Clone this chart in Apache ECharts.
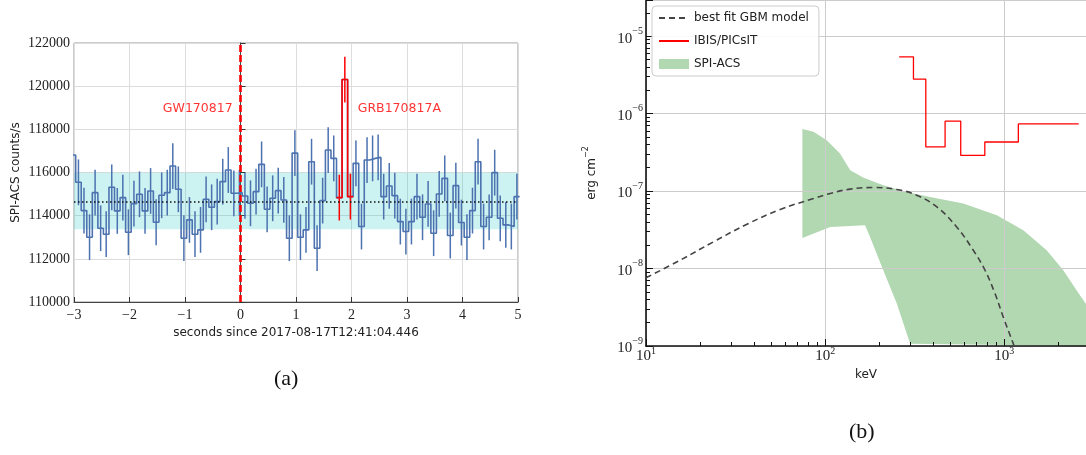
<!DOCTYPE html>
<html>
<head>
<meta charset="utf-8">
<script src="https://cdn.jsdelivr.net/npm/echarts@6/dist/echarts.min.js"></script>
<style>
  html, body { margin: 0; padding: 0; background: #fff; }
  #chart { width: 1086px; height: 455px; }
</style>
</head>
<body>
<div id="chart"></div>
<script>
// (a) SPI-ACS light curve, 0.1 s bins, first (clipped) bin starts at -3.07 s
const binStart = -3.07;
const binWidth = 0.1;
const acsRate = [
  116808, 115545, 114235, 113002, 115067, 113418, 113141, 115314, 114220, 114836,
  113233, 114560, 114990, 114220, 115144, 113695, 114944, 115067, 116300, 115221,
  112956, 113803, 113141, 113341, 114759, 114389, 114651, 115575, 116115, 115036,
  115067, 114913, 114574, 115113, 116377, 114297, 114805, 115159, 114728, 112956,
  116900, 113002, 113341, 116500, 112493, 114697, 117039, 116654, 114835, 120306,
  114882, 116423, 113495, 116577, 116654, 116700, 114882, 115375, 114928, 113726,
  113264, 113726, 114882, 113926, 114543, 113187, 115005, 115730, 113079, 115390,
  113680, 113002, 114235, 116500, 113495, 113926, 115992, 113880, 113572, 113495,
  114882
];
const rateErr = 1060;
const burstFirst = 48;   // GRB170817A bins (index in acsRate)
const burstLast = 50;
const bgMean = 114650;
const bgBand = [113370, 115990];
const gwTime = 0;
const gwLabel = [-0.133, 118935];
const grbLabel = [2.103, 118935];
const timeTicks = { min: -3, max: 5, step: 1 };
const rateTicks = { min: 110000, max: 122000, step: 2000 };

// (b) spectra
const gbmE = [10, 15.5, 23.8, 36.6, 56.1, 86.1, 106.7, 138, 186, 251, 324, 420, 542, 671, 780, 887, 986, 1122, 1155];
const gbmF = [7.6e-9, 1.28e-8, 2.21e-8, 3.73e-8, 5.78e-8, 8.02e-8, 9.31e-8, 1.06e-7, 1.11e-7, 1.05e-7,
  8.85e-8, 6.25e-8, 3.44e-8, 1.72e-8, 9.5e-9, 4.75e-9, 2.37e-9, 1.07e-9, 8.9e-10];
const ibisE = [259, 311, 364.5, 467, 571, 778, 1197, 2600];   // bin edges
const ibisF = [5.41e-6, 2.78e-6, 3.71e-7, 7.98e-7, 2.88e-7, 4.30e-7, 7.36e-7];
const acsHiE = [74.6, 86.1, 102, 121, 138, 164, 211, 286, 385, 590, 908, 1276, 1722, 2133, 2535, 2900];
const acsHiF = [6.31e-7, 5.81e-7, 4.53e-7, 3.05e-7, 1.86e-7, 1.48e-7, 1.19e-7, 9.75e-8, 8.39e-8, 6.89e-8,
  4.86e-8, 3.11e-8, 1.72e-8, 9.5e-9, 5.22e-9, 3.3e-9];
const acsLoE = [74.6, 106.7, 167, 178, 211, 251, 298, 2900];
const acsLoF = [2.48e-8, 3.44e-8, 3.62e-8, 2.56e-8, 9.5e-9, 3.53e-9, 1.07e-9, 1.0e-9];
const keVRange = [10, 2856];
const fluxRange = [1e-9, 2.926e-5];

const blue = '#4c72b0';
const red = '#ff0000';
const gbmColor = '#444';
const acsGreen = 'rgb(178,216,178)';
const serif = 'Liberation Serif';
const sans = 'DejaVu Sans';

const minus = v => (v < 0 ? '\u2212' + (-v) : String(v));
const pow10 = v => '{b|10}{s|' + minus(Math.round(Math.log10(v))) + '}';

const stepData = acsRate.map((v, i) => [binStart + i * binWidth, v]);
stepData.push([binStart + acsRate.length * binWidth, acsRate[acsRate.length - 1]]);
const burstData = [];
for (let i = burstFirst; i <= burstLast; i++) burstData.push([binStart + i * binWidth, acsRate[i]]);
burstData.push([binStart + (burstLast + 1) * binWidth, acsRate[burstLast]]);

const ibisData = ibisE.map((e, i) => [e, ibisF[Math.min(i, ibisF.length - 1)]]);

// line-only legend icons: hide the symbol ECharts puts on line entries
const noSymbol = { opacity: 0, borderWidth: 0 };

const chart = echarts.init(document.getElementById('chart'));
chart.setOption({
  animation: false,
  backgroundColor: '#fff',
  grid: [
    { left: 74, top: 43, width: 444, height: 259, show: true, borderColor: '#999', borderWidth: 1 },
    { left: 646, top: 0, width: 440, height: 346 }
  ],
  legend: {
    data: [
      { name: 'best fit GBM model', itemStyle: noSymbol },
      { name: 'IBIS/PICsIT', itemStyle: noSymbol },
      { name: 'SPI-ACS', icon: 'rect', itemStyle: { color: acsGreen } }
    ],
    orient: 'vertical', left: 652, top: 6,
    itemWidth: 30, itemHeight: 10, itemGap: 11,
    padding: [6, 10, 6, 6],
    backgroundColor: 'rgba(255,255,255,0.85)', borderColor: '#ccc', borderWidth: 1, borderRadius: 4,
    textStyle: { fontFamily: sans, fontSize: 12, color: '#222' },
    selectedMode: false
  },
  xAxis: [
    {
      type: 'value', gridIndex: 0, min: timeTicks.min, max: timeTicks.max, interval: timeTicks.step,
      axisLine: { lineStyle: { color: '#444' } },
      axisTick: { inside: true, length: 5, lineStyle: { color: '#333' } },
      axisLabel: { fontFamily: serif, fontSize: 14, color: '#222', margin: 6, formatter: minus },
      splitLine: { show: true, lineStyle: { color: '#ddd' } },
      name: 'seconds since 2017-08-17T12:41:04.446', nameLocation: 'middle', nameGap: 20,
      nameTextStyle: { fontFamily: sans, fontSize: 12, color: '#222' }
    },
    {
      type: 'log', gridIndex: 1, logBase: 10, min: keVRange[0], max: keVRange[1], z: 3,
      axisLine: { lineStyle: { color: '#111', width: 1.6 } },
      axisTick: { inside: true, length: 7, lineStyle: { color: '#111' } },
      minorTick: { show: true, splitNumber: 9, length: 4, lineStyle: { color: '#111' } },
      splitLine: { show: true, lineStyle: { color: '#ccc' } },
      axisLabel: {
        showMaxLabel: false, margin: 0, formatter: pow10, color: '#222',
        rich: {
          b: { fontFamily: serif, fontSize: 15, lineHeight: 18, verticalAlign: 'bottom', color: '#222' },
          s: { fontFamily: serif, fontSize: 10, lineHeight: 10, verticalAlign: 'top', color: '#222' }
        }
      },
      name: 'keV', nameLocation: 'middle', nameGap: 20,
      nameTextStyle: { fontFamily: sans, fontSize: 12, color: '#222' }
    }
  ],
  yAxis: [
    {
      type: 'value', gridIndex: 0, min: rateTicks.min, max: rateTicks.max, interval: rateTicks.step,
      axisLine: { show: true, lineStyle: { color: '#444' } },
      axisTick: { show: true, inside: true, length: 5, lineStyle: { color: '#333' } },
      axisLabel: { fontFamily: serif, fontSize: 14, color: '#222', margin: 4, formatter: v => String(v) },
      splitLine: { show: true, lineStyle: { color: '#ddd' } },
      name: 'SPI-ACS counts/s', nameLocation: 'middle', nameRotate: 90, nameGap: 52,
      nameTextStyle: { fontFamily: sans, fontSize: 12, color: '#222' }
    },
    {
      type: 'log', gridIndex: 1, logBase: 10, min: fluxRange[0], max: fluxRange[1], z: 3,
      axisLine: { show: true, lineStyle: { color: '#111', width: 1.6 } },
      axisTick: { show: true, inside: true, length: 7, lineStyle: { color: '#111' } },
      minorTick: { show: true, splitNumber: 9, length: 4, lineStyle: { color: '#111' } },
      splitLine: { show: true, lineStyle: { color: '#ccc' } },
      axisLabel: {
        showMaxLabel: false, margin: 3, formatter: pow10, color: '#222',
        rich: {
          b: { fontFamily: serif, fontSize: 15, lineHeight: 20, verticalAlign: 'bottom', color: '#222' },
          s: { fontFamily: serif, fontSize: 10, lineHeight: 12, verticalAlign: 'top', color: '#222' }
        }
      },
      name: '{n|erg cm}{s|\u22122}', nameLocation: 'middle', nameRotate: 90, nameGap: 48,
      nameTextStyle: {
        rich: {
          n: { fontFamily: sans, fontSize: 12, lineHeight: 16, verticalAlign: 'bottom', color: '#222' },
          s: { fontFamily: sans, fontSize: 8, lineHeight: 10, verticalAlign: 'top', color: '#222' }
        }
      }
    }
  ],
  graphic: [
    { type: 'text', left: 274, top: 368, style: { text: '(a)', font: '22px "Liberation Serif"', fill: '#111' } },
    { type: 'text', left: 849, top: 421, style: { text: '(b)', font: '22px "Liberation Serif"', fill: '#111' } }
  ],
  series: [
    {
      type: 'line', xAxisIndex: 0, yAxisIndex: 0, data: [], z: 1, silent: true,
      markArea: {
        silent: true,
        itemStyle: { color: 'rgba(0,191,191,0.2)' },
        data: [[{ yAxis: bgBand[0] }, { yAxis: bgBand[1] }]]
      }
    },
    {
      type: 'line', xAxisIndex: 0, yAxisIndex: 0, data: stepData, step: 'end', symbol: 'none', z: 3,
      lineStyle: { color: blue, width: 1.6 }, silent: true,
      markLine: {
        silent: true, symbol: ['none', 'none'], label: { show: false },
        lineStyle: { color: '#111', width: 1.5, type: [1.5, 2.5] },
        data: [{ yAxis: bgMean }]
      }
    },
    {
      type: 'custom', xAxisIndex: 0, yAxisIndex: 0, z: 3, clip: true, silent: true,
      data: acsRate.map((v, i) => [binStart + (i + 0.5) * binWidth, v]),
      renderItem: (params, api) => {
        const x = api.value(0), y = api.value(1);
        const lo = api.coord([x, y - rateErr]);
        const hi = api.coord([x, y + rateErr]);
        const isBurst = params.dataIndex >= burstFirst && params.dataIndex <= burstLast;
        return {
          type: 'line',
          shape: { x1: lo[0], y1: lo[1], x2: hi[0], y2: hi[1] },
          style: { stroke: isBurst ? red : blue, lineWidth: 1.5 }
        };
      }
    },
    {
      type: 'line', xAxisIndex: 0, yAxisIndex: 0, data: burstData, step: 'end', symbol: 'none', z: 4,
      lineStyle: { color: red, width: 1.6 }, silent: true,
      markLine: {
        silent: true, symbol: ['none', 'none'], label: { show: false },
        lineStyle: { color: red, width: 2.6, type: [7, 3] },
        data: [{ xAxis: gwTime }]
      }
    },
    {
      type: 'scatter', xAxisIndex: 0, yAxisIndex: 0, symbolSize: 1, z: 5, silent: true,
      itemStyle: { color: 'rgba(0,0,0,0)' },
      data: [gwLabel],
      label: { show: true, position: 'left', distance: 0, formatter: 'GW170817', color: red, fontFamily: sans, fontSize: 12.5 }
    },
    {
      type: 'scatter', xAxisIndex: 0, yAxisIndex: 0, symbolSize: 1, z: 5, silent: true,
      itemStyle: { color: 'rgba(0,0,0,0)' },
      data: [grbLabel],
      label: { show: true, position: 'right', distance: 0, formatter: 'GRB170817A', color: red, fontFamily: sans, fontSize: 12.5 }
    },
    {
      name: 'SPI-ACS', type: 'custom', xAxisIndex: 1, yAxisIndex: 1, z: 2, clip: true, silent: true,
      itemStyle: { color: acsGreen },
      data: [[acsHiE[0], acsHiF[0]]],
      renderItem: (params, api) => {
        const pts = [];
        acsHiE.forEach((e, i) => pts.push(api.coord([e, acsHiF[i]])));
        for (let i = acsLoE.length - 1; i >= 0; i--) pts.push(api.coord([acsLoE[i], acsLoF[i]]));
        return { type: 'polygon', shape: { points: pts }, style: { fill: acsGreen } };
      }
    },
    {
      name: 'best fit GBM model', type: 'line', xAxisIndex: 1, yAxisIndex: 1, z: 4, silent: true,
      data: gbmE.map((e, i) => [e, gbmF[i]]), smooth: 0.4, symbol: 'none',
      itemStyle: { color: gbmColor },
      lineStyle: { color: gbmColor, width: 1.6, type: [6, 4] }
    },
    {
      name: 'IBIS/PICsIT', type: 'line', xAxisIndex: 1, yAxisIndex: 1, z: 4, silent: true,
      data: ibisData, step: 'end', symbol: 'none',
      lineStyle: { color: red, width: 1.3 }, itemStyle: { color: red }
    }
  ]
});
</script>
</body>
</html>
